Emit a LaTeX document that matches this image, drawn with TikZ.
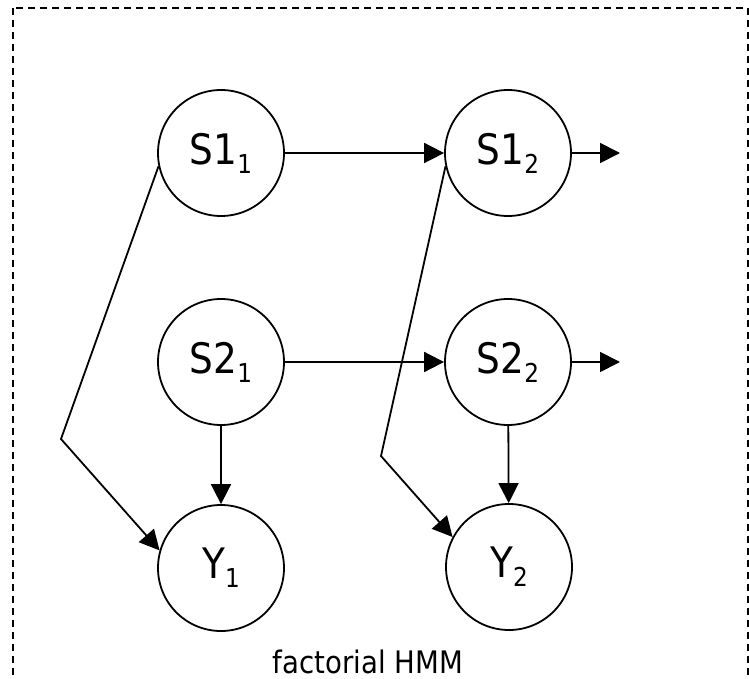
\documentclass[tikz,border=0pt]{standalone}
\usepackage{fontspec}
\setmainfont{DejaVu Sans}[FakeStretch=0.89]
\usetikzlibrary{arrows.meta}
\newcommand{\lowidx}[1]{\raisebox{-9pt}{\fontsize{26}{26}\selectfont #1}}
\begin{document}
\begin{tikzpicture}[x=1pt,y=-1pt,
  var/.style={circle,draw,line width=1.8pt,minimum size=126pt,inner sep=0pt,
    font=\fontsize{42}{42}\selectfont},
  edge/.style={line width=1.8pt,-{Triangle[length=20pt,width=20pt]}}]
\useasboundingbox (0,0) rectangle (749,679);
% dashed frame, open at the bottom edge
\begin{scope}
  \clip (0,0) rectangle (749,679);
  \draw[line width=1.4pt,dash pattern=on 7pt off 5pt] (13,8) rectangle (748,700);
\end{scope}
% hidden state chains and observations
\node[var] (s11) at (221,153) {S1\lowidx{1}};
\node[var] (s12) at (508,153) {S1\lowidx{2}};
\node[var] (s21) at (221,362) {S2\lowidx{1}};
\node[var] (s22) at (508,362) {S2\lowidx{2}};
\node[var] (y1)  at (221,568) {Y\lowidx{1}};
\node[var] (y2)  at (509,567) {Y\lowidx{2}};
\coordinate (o1) at (620,153);
\coordinate (o2) at (620,362);
\coordinate (k1) at (61,439);
\coordinate (k2) at (381,456);
% transitions
\draw[edge] (s11) -- (s12);
\draw[edge] (s21) -- (s22);
\draw[edge] (s12.east) -- (o1);
\draw[edge] (s22.east) -- (o2);
% emissions
\draw[edge] (s21) -- (y1);
\draw[edge] (s22) -- (y2);
\draw[edge] (s11.192) -- (k1) -- (y1.164);
\draw[edge] (s12.192) -- (k2) -- (y2.152);
\node[anchor=base,font=\fontsize{31}{31}\selectfont] (cap) at (368,673) {factorial HMM};
\end{tikzpicture}
\end{document}
